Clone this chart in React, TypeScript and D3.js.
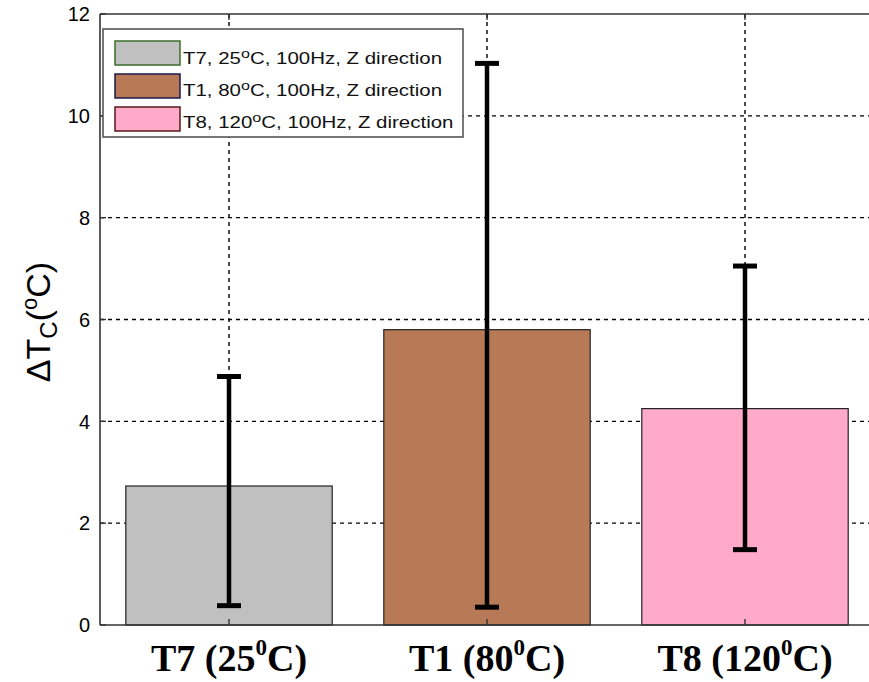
import React from "react";
import * as d3 from "d3";

const categories = ["T7", "T1", "T8"];
const temps = ["25", "80", "120"];
const values = [2.73, 5.8, 4.25];
const errLow = [0.38, 0.35, 1.48];
const errHigh = [4.88, 11.03, 7.05];
const colors = ["#c0c0c0", "#b87a56", "#ffaac8"];
const legendBorders = ["#3a6e2a", "#1a1a4a", "#5a1a1a"];
const legendLabels = ["T7, 25", "T1, 80", "T8, 120"];
const yTicks = [0, 2, 4, 6, 8, 10, 12];

export default function App() {
  const W = 869, H = 682;
  const left = 100, right = 874, top = 14, bottom = 625;
  const x = d3.scaleBand<string>().domain(categories).range([left, right]).paddingInner(0.2).paddingOuter(0.1);
  const y = d3.scaleLinear().domain([0, 12]).range([bottom, top]);
  const bw = x.bandwidth();
  const cx = (c: string) => (x(c) as number) + bw / 2;

  return (
    <svg width={W} height={H} style={{ position: "absolute", left: 0, top: 0, background: "#fff" }}>
      {yTicks.slice(1, -1).map((t) => (
        <line key={"gy" + t} x1={left} x2={right} y1={y(t)} y2={y(t)} stroke="#000" strokeWidth={1.4} strokeDasharray="4,4" />
      ))}
      {categories.map((c) => (
        <line key={"gx" + c} x1={cx(c)} x2={cx(c)} y1={top} y2={bottom} stroke="#000" strokeWidth={1.4} strokeDasharray="4,4" />
      ))}
      {categories.map((c, i) => (
        <rect key={"b" + c} x={x(c)} y={y(values[i])} width={bw} height={bottom - y(values[i])} fill={colors[i]} stroke="#222" strokeWidth={1.2} />
      ))}
      {categories.map((c, i) => (
        <g key={"e" + c} stroke="#000">
          <line x1={cx(c)} x2={cx(c)} y1={y(errLow[i])} y2={y(errHigh[i])} strokeWidth={4.5} />
          <line x1={cx(c) - 12} x2={cx(c) + 12} y1={y(errLow[i])} y2={y(errLow[i])} strokeWidth={5} />
          <line x1={cx(c) - 12} x2={cx(c) + 12} y1={y(errHigh[i])} y2={y(errHigh[i])} strokeWidth={5} />
        </g>
      ))}
      <line x1={left} x2={left} y1={top} y2={bottom} stroke="#333" strokeWidth={1.6} />
      <line x1={left} x2={right} y1={top} y2={top} stroke="#333" strokeWidth={1.6} />
      <line x1={left} x2={right} y1={bottom} y2={bottom} stroke="#333" strokeWidth={1.6} />
      {yTicks.map((t) => (
        <g key={"yt" + t}>
          <line x1={left} x2={left + 6} y1={y(t)} y2={y(t)} stroke="#333" strokeWidth={1.4} />
          <text x={left - 10} y={y(t)} dy="0.36em" textAnchor="end" fontFamily="Liberation Sans, Arial, sans-serif" fontSize={20} fill="#000">{t}</text>
        </g>
      ))}
      {categories.map((c) => (
        <g key={"xt" + c}>
          <line x1={cx(c)} x2={cx(c)} y1={top} y2={top + 6} stroke="#333" strokeWidth={1.4} />
          <line x1={cx(c)} x2={cx(c)} y1={bottom} y2={bottom - 6} stroke="#333" strokeWidth={1.4} />
        </g>
      ))}
      {categories.map((c, i) => (
        <text key={"xl" + c} x={cx(c)} y={671} textAnchor="middle" fontFamily="Liberation Serif, Times New Roman, serif" fontWeight="bold" fontSize={38} fill="#000">
          {c} ({temps[i]}<tspan dy={-16} fontSize={23}>0</tspan><tspan dy={16}>C)</tspan>
        </text>
      ))}
      <text transform="translate(50,322) rotate(-90)" textAnchor="middle" fontFamily="Liberation Sans, Arial, sans-serif" fontSize={34} fill="#000">
        ΔT<tspan dy={7} fontSize={24}>C</tspan><tspan dy={-7}>(</tspan><tspan dy={-13} fontSize={22}>o</tspan><tspan dy={13}>C)</tspan>
      </text>
      <rect x={103} y={29} width={360} height={108} fill="#fff" stroke="#555" strokeWidth={1.6} />
      {legendLabels.map((l, i) => (
        <g key={"lg" + i}>
          <rect x={115} y={41 + i * 33} width={65} height={24} fill={colors[i]} stroke={legendBorders[i]} strokeWidth={1.5} />
          <text transform={`translate(183,${63.5 + i * 32.3}) scale(1.24,1)`} fontFamily="Liberation Sans, Arial, sans-serif" fontSize={16.5} fill="#111">
            {l}<tspan dy={-6} fontSize={13}>o</tspan><tspan dy={6}>C, 100Hz, Z direction</tspan>
          </text>
        </g>
      ))}
    </svg>
  );
}
